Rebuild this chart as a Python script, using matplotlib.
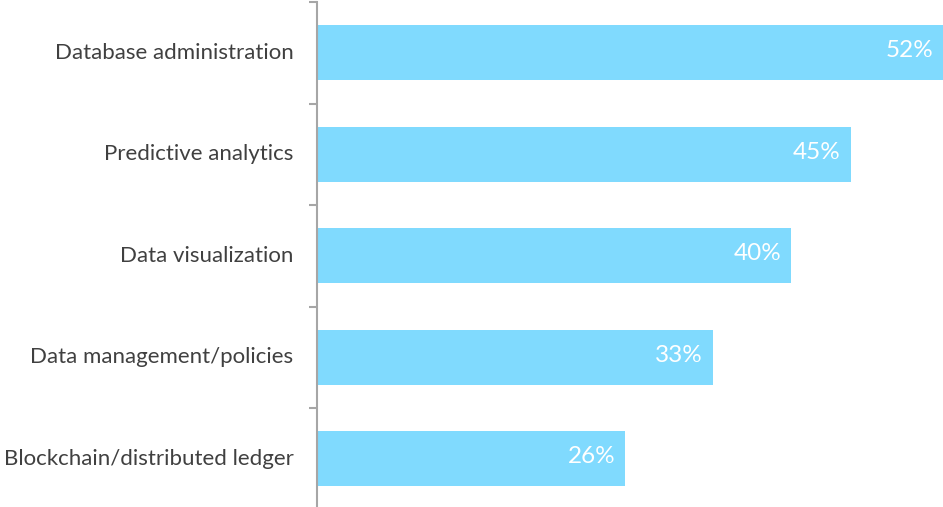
import matplotlib

matplotlib.use("Agg")
import matplotlib.pyplot as plt  # noqa: E402
import numpy as np  # noqa: E402
from matplotlib.ticker import FixedLocator  # noqa: E402

categories = [
    "Database administration",
    "Predictive analytics",
    "Data visualization",
    "Data management/policies",
    "Blockchain/distributed ledger",
]
shares = [52.8, 45.0, 40.0, 33.4, 26.0]
share_labels = ["52%", "45%", "40%", "33%", "26%"]

BAR_COLOR = "#80DAFE"
AXIS_COLOR = "#A6A6A6"
TEXT_COLOR = "#404040"

plt.rcParams["font.family"] = ["Lato", "DejaVu Sans"]

W, H = 943, 507
fig = plt.figure(figsize=(W / 100, H / 100), dpi=100)
ax_left = 317 / W
ax_top = 2 / H
ax_bottom = -2.5 / H
ax = fig.add_axes([ax_left, ax_bottom, 1 - ax_left, 1 - ax_top - ax_bottom])

y = np.arange(len(categories))
ax.barh(y, shares, height=0.54, color=BAR_COLOR, zorder=2)
ax.set_ylim(len(categories) - 0.5, -0.5)
ax.set_xlim(0, 52.8)

for yi, val, lab in zip(y, shares, share_labels):
    ax.text(val - 0.85, yi - 0.02, lab, ha="right", va="center", color="white",
            fontsize=17.5, zorder=3)

ax.set_yticks(y - 0.02)
ax.set_yticklabels(categories, fontsize=16, color=TEXT_COLOR)
ax.yaxis.set_minor_locator(FixedLocator(np.arange(-0.5, len(categories), 1.0)))
ax.tick_params(axis="y", which="major", length=0, pad=17)
ax.tick_params(axis="y", which="minor", length=5.5, width=1.5, color=AXIS_COLOR, direction="out")
ax.set_xticks([])

for side in ("top", "right", "bottom"):
    ax.spines[side].set_visible(False)
ax.spines["left"].set_color(AXIS_COLOR)
ax.spines["left"].set_linewidth(1.5)

fig.savefig("out.png", dpi=100)
plt.close(fig)
